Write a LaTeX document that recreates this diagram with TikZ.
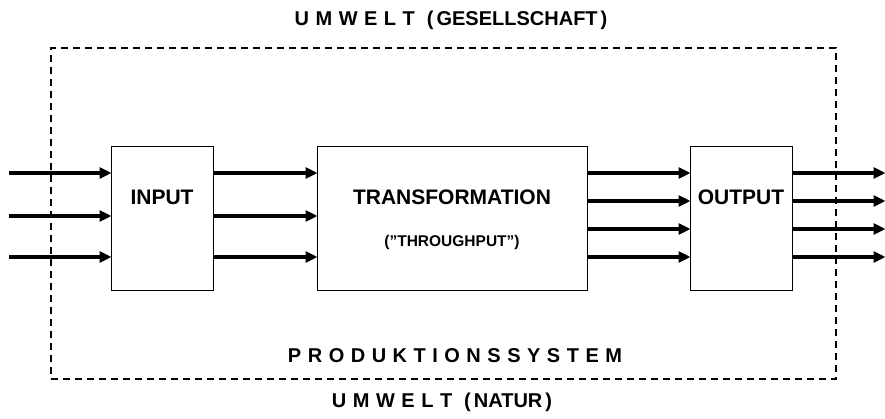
\documentclass[tikz,border=0pt]{standalone}
\usepackage{fontspec}
\setmainfont{Liberation Sans}
\usetikzlibrary{arrows.meta}
% small fixed gap between spaced-out capitals
\newcommand\gp{\hspace{6.5pt}}
\newcommand\qt{\symbol{34}}
\begin{document}
\begin{tikzpicture}[x=1pt,y=-1pt,
  box/.style={draw,line width=1.3pt,minimum width=#1,minimum height=144pt,inner sep=0pt,anchor=north west},
  flow/.style={line width=3.3pt,-{Triangle[length=12pt,width=11pt]},shorten >=-0.5pt},
  lbl/.style={font=\fontsize{21}{22}\selectfont\bfseries,inner sep=0pt},
  sub/.style={font=\fontsize{15.5}{16}\selectfont\bfseries,inner sep=0pt},
  title/.style={font=\fontsize{20}{22}\selectfont\bfseries,inner sep=0pt},
  env/.style={draw,dash pattern=on 7pt off 5pt,line width=1.7pt}]
\useasboundingbox (0,0) rectangle (885,419);

% system boundary
\node[env,minimum width=785pt,minimum height=331pt,anchor=north west,inner sep=0pt] (sys) at (50,47) {};

% the three stages
\node[box=102pt] (inp) at (111,146) {};
\node[box=270pt] (tr) at (317,146) {};
\node[box=102pt] (out) at (690,146) {};

\node[lbl] (inpt) at (162,197) {INPUT};
\node[lbl] (trt) at (452,197) {TRANSFORMATION};
\node[sub] (trs) at (452,242) {(\qt THROUGHPUT\qt)};
\node[lbl] (outt) at (741,197) {OUTPUT};

% environment labels
\node[title] (top) at (451,20) {U\gp M\gp W\gp E\gp L\gp T\hspace{12pt}(\hspace{3pt}GESELLSCHAFT\hspace{3pt})};
\node[title] (prod) at (455,356) {P\gp R\gp O\gp D\gp U\gp K\gp T\gp I\gp O\gp N\gp S\gp S\gp Y\gp S\gp T\gp E\gp M};
\node[title] (bot) at (442,402) {U\gp M\gp W\gp E\gp L\gp T\hspace{12pt}(\hspace{3pt}NATUR\hspace{3pt})};

% free ends of the flows
\coordinate (l1) at (9,173);
\coordinate (l2) at (9,216);
\coordinate (l3) at (9,257);
\coordinate (r1) at (885,173);
\coordinate (r2) at (885,201);
\coordinate (r3) at (885,229);
\coordinate (r4) at (885,257);

% inputs
\foreach \c in {l1,l2,l3} {
  \draw[flow] (\c) -- (\c -| inp.west);
  \draw[flow] (inp.east |- \c) -- (tr.west |- \c);
}
% outputs
\foreach \c in {r1,r2,r3,r4} {
  \draw[flow] (tr.east |- \c) -- (out.west |- \c);
  \draw[flow] (out.east |- \c) -- (\c);
}
\end{tikzpicture}
\end{document}
